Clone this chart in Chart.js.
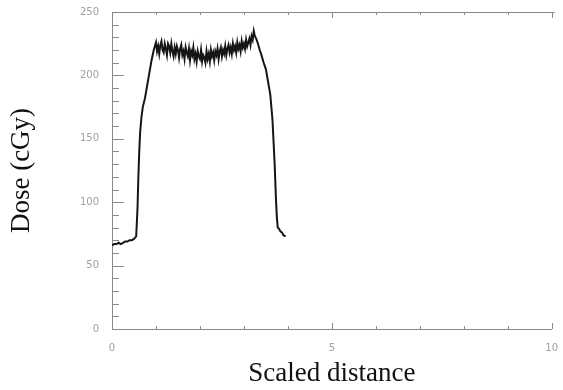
<!DOCTYPE html>
<html>
<head>
<meta charset="utf-8">
<script src="https://cdn.jsdelivr.net/npm/chart.js@4/dist/chart.umd.min.js"></script>
<style>
  html, body { margin: 0; padding: 0; background: #fff; }
  #wrap { width: 563px; height: 390px; }
</style>
</head>
<body>
<div id="wrap"><canvas id="chart" width="563" height="390"></canvas></div>
<script>
// dose profile along the scaled distance

// baseline + rising edge
let riseX = [0, 0.05, 0.1, 0.15, 0.2, 0.25, 0.3, 0.35, 0.4, 0.45, 0.5, 0.55, 0.58, 0.6, 0.62, 0.64, 0.67, 0.7, 0.75, 0.8, 0.85, 0.9, 0.95]
let riseY = [66, 67, 67, 68, 67, 68, 69, 69, 70, 70, 71, 73, 95, 120, 140, 155, 167, 175, 182, 192, 202, 212, 220]

// noisy plateau
let flatX = [1.000, 1.025, 1.050, 1.075, 1.100, 1.125, 1.150, 1.175, 1.200, 1.225, 1.250, 1.275, 1.300, 1.325, 1.350, 1.375,
             1.400, 1.425, 1.450, 1.475, 1.500, 1.525, 1.550, 1.575, 1.600, 1.625, 1.650, 1.675, 1.700, 1.725, 1.750, 1.775,
             1.800, 1.825, 1.850, 1.875, 1.900, 1.925, 1.950, 1.975, 2.000, 2.025, 2.050, 2.075, 2.100, 2.125, 2.150, 2.175,
             2.200, 2.225, 2.250, 2.275, 2.300, 2.325, 2.350, 2.375, 2.400, 2.425, 2.450, 2.475, 2.500, 2.525, 2.550, 2.575,
             2.600, 2.625, 2.650, 2.675, 2.700, 2.725, 2.750, 2.775, 2.800, 2.825, 2.850, 2.875, 2.900, 2.925, 2.950, 2.975,
             3.000, 3.025, 3.050, 3.075, 3.100, 3.125, 3.150, 3.175, 3.200, 3.225, 3.250]
let flatY = [226, 219, 223, 217, 224, 227, 220, 218, 225, 221, 216, 225, 223, 218, 225, 219,
             215, 222, 217, 223, 220, 214, 221, 224, 216, 219, 213, 222, 218, 215, 221, 212,
             219, 216, 222, 213, 217, 211, 219, 215, 213, 220, 211, 216, 214, 210, 219, 213,
             217, 211, 220, 215, 218, 212, 219, 216, 221, 213, 219, 222, 215, 220, 217, 223,
             216, 221, 224, 218, 222, 217, 225, 220, 223, 218, 226, 221, 224, 219, 227, 222,
             225, 221, 228, 223, 226, 229, 224, 231, 228, 235, 231]

// falling edge + tail
let fallX = [3.28, 3.32, 3.36, 3.4, 3.45, 3.5, 3.55, 3.6, 3.65, 3.7, 3.73, 3.75, 3.77, 3.8, 3.83, 3.87, 3.9, 3.95]
let fallY = [229, 225, 220, 216, 210, 205, 195, 185, 165, 130, 102, 88, 80, 79, 77, 76, 74, 73]

let xTicks = [0, 5, 10]
let yTicks = [0, 50, 100, 150, 200, 250]

let allX = riseX.concat(flatX, fallX)
let allY = riseY.concat(flatY, fallY)
let points = allX.map(function(x, i) { return { x: x, y: allY[i] } })

let axisColor = '#8a8a8a'

// inward ticks on left, bottom and top + top frame line
let frameTicks = {
    id: 'frameTicks',
    afterDraw: function(chart) {
        let ctx = chart.ctx
        let xs = chart.scales.x, ys = chart.scales.y
        let a = chart.chartArea
        ctx.save()
        ctx.strokeStyle = axisColor
        ctx.lineWidth = 1
        ctx.beginPath()
        ctx.moveTo(a.left, a.top + 0.5)
        ctx.lineTo(a.right + 3, a.top + 0.5)
        for (let v = 0; v <= 250; v += 10) {
            let py = Math.round(ys.getPixelForValue(v)) + 0.5
            let len = v % 50 === 0 ? 12 : 7
            ctx.moveTo(a.left, py)
            ctx.lineTo(a.left + len, py)
        }
        for (let v = 0; v <= 10; v += 1) {
            let px = Math.round(xs.getPixelForValue(v)) + 0.5
            let len = v % 5 === 0 ? 6 : 3
            ctx.moveTo(px, a.bottom)
            ctx.lineTo(px, a.bottom - len)
            ctx.moveTo(px, a.top)
            ctx.lineTo(px, a.top + len)
        }
        ctx.stroke()
        ctx.restore()
    }
}

new Chart(document.getElementById('chart'), {
    type: 'line',
    data: {
        datasets: [{
            data: points,
            borderColor: '#151515',
            borderWidth: 2,
            pointRadius: 0,
            tension: 0,
            fill: false
        }]
    },
    options: {
        responsive: false,
        animation: false,
        layout: { padding: { left: 0, top: 12, right: 9, bottom: 0 } },
        plugins: { legend: { display: false }, tooltip: { enabled: false } },
        scales: {
            x: {
                type: 'linear',
                min: 0,
                max: 10,
                afterFit: function(s) { s.height = 61 },
                afterBuildTicks: function(s) { s.ticks = xTicks.map(function(v) { return { value: v } }) },
                grid: { display: false },
                border: { display: true, color: axisColor, width: 1 },
                ticks: { color: '#a0a0a0', font: { family: 'DejaVu Sans', size: 10 }, padding: 5, maxRotation: 0 },
                title: { display: true, text: 'Scaled distance', color: '#111', font: { family: 'Liberation Serif', size: 27 }, padding: { top: 0, bottom: 0 } }
            },
            y: {
                min: 0,
                max: 250,
                afterFit: function(s) { s.width = 112 },
                afterBuildTicks: function(s) { s.ticks = yTicks.map(function(v) { return { value: v } }) },
                grid: { display: false },
                border: { display: true, color: axisColor, width: 1 },
                ticks: { color: '#a0a0a0', font: { family: 'DejaVu Sans', size: 10 }, padding: 5 },
                title: { display: true, text: 'Dose (cGy)', color: '#111', font: { family: 'Liberation Serif', size: 27 }, padding: { top: 6, bottom: 0 } }
            }
        }
    },
    plugins: [frameTicks]
})
</script>
</body>
</html>
